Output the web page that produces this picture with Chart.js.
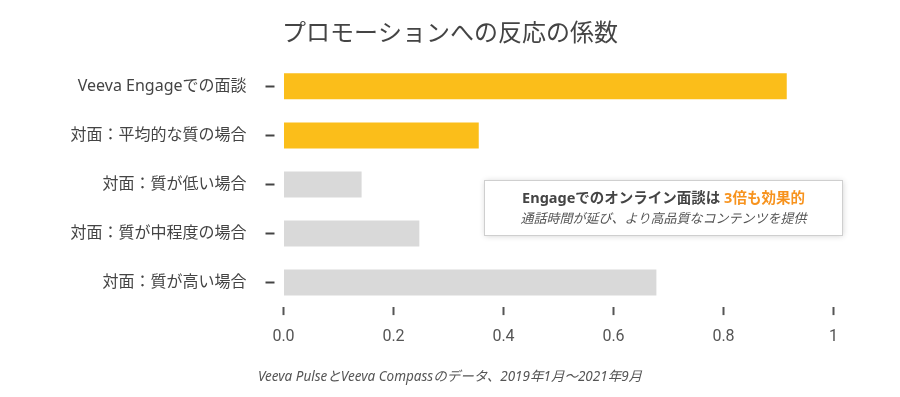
<!DOCTYPE html>
<html>
<head>
<meta charset="utf-8">
<script src="https://cdn.jsdelivr.net/npm/chart.js@4.4.1/dist/chart.umd.min.js"></script>
<style>
  html, body { margin: 0; padding: 0; background: #fff; }
  #wrap { width: 900px; height: 397px; }
</style>
</head>
<body>
<div id="wrap"><canvas id="coefChart"></canvas></div>
<script>
// chart data
const categories = [
    'Veeva Engageでの面談',
    '対面：平均的な質の場合',
    '対面：質が低い場合',
    '対面：質が中程度の場合',
    '対面：質が高い場合'
];
const coefficients = [0.915, 0.355, 0.142, 0.247, 0.678];
const xTicks = [0, 0.2, 0.4, 0.6, 0.8, 1];

const titleText = 'プロモーションへの反応の係数';
const sourceText = 'Veeva PulseとVeeva Compassのデータ、2019年1月～2021年9月';
const noteMain = 'Engageでのオンライン面談は ';
const noteHighlight = '3倍も効果的';
const noteSub = '通話時間が延び、より高品質なコンテンツを提供';

const YELLOW = '#fbbe1a';
const GREY = '#d9d9d9';
const JP = "'Noto Sans', 'Noto Sans CJK JP', sans-serif";

// the callout box on the right
const notePlugin = {
    id: 'note',
    afterDraw(chart) {
        const ctx = chart.ctx;
        const x = 484.5, y = 180.5, w = 358, h = 55;
        ctx.save();
        ctx.shadowColor = 'rgba(0,0,0,0.18)';
        ctx.shadowBlur = 6;
        ctx.fillStyle = '#fff';
        ctx.fillRect(x, y, w, h);
        ctx.shadowColor = 'transparent';
        ctx.strokeStyle = '#cfcfcf';
        ctx.lineWidth = 1;
        ctx.strokeRect(x, y, w, h);

        const cx = x + w / 2;
        ctx.textBaseline = 'middle';
        ctx.font = 'bold 14.5px ' + JP;
        const w1 = ctx.measureText(noteMain).width;
        const w2 = ctx.measureText(noteHighlight).width;
        let sx = cx - (w1 + w2) / 2;
        ctx.textAlign = 'left';
        ctx.fillStyle = '#444';
        ctx.fillText(noteMain, sx, 199);
        ctx.fillStyle = '#f7931e';
        ctx.fillText(noteHighlight, sx + w1, 199);

        ctx.font = 'italic 13px ' + JP;
        ctx.fillStyle = '#555';
        ctx.textAlign = 'center';
        ctx.fillText(noteSub, cx, 219);
        ctx.restore();
    }
};

const chart_data = {
    labels: categories,
    datasets: [{
        data: coefficients,
        backgroundColor: (c) => c.dataIndex < 2 ? YELLOW : GREY,
        borderWidth: 0,
        barPercentage: 0.53,
        categoryPercentage: 1
    }]
};

const config = {
    type: 'bar',
    data: chart_data,
    options: {
        indexAxis: 'y',
        responsive: true,
        maintainAspectRatio: false,
        animation: false,
        layout: { padding: 0 },
        plugins: {
            legend: { display: false },
            tooltip: { enabled: false },
            title: {
                display: true,
                text: titleText,
                color: '#444',
                font: { family: JP, size: 24, weight: 'normal' },
                padding: { top: 20, bottom: 13 }
            },
            subtitle: {
                display: true,
                position: 'bottom',
                text: sourceText,
                color: '#555',
                font: { family: JP, size: 13.5, style: 'italic', weight: 'normal' },
                padding: { top: 10.5, bottom: 12 }
            }
        },
        scales: {
            x: {
                min: 0,
                max: 1,
                afterBuildTicks: (scale) => {
                    scale.ticks = xTicks.map(v => ({ value: v }));
                },
                afterFit: (scale) => { scale.paddingRight = 66.5; },
                ticks: {
                    color: '#555',
                    font: { family: 'Roboto', size: 16 },
                    padding: 12,
                    callback: (v) => v === 1 ? '1' : v.toFixed(1)
                },
                grid: {
                    drawOnChartArea: false,
                    drawTicks: true,
                    tickLength: 8,
                    tickWidth: 2,
                    tickColor: '#555'
                },
                border: { display: false }
            },
            y: {
                afterFit: (scale) => { scale.width = 283.5; },
                ticks: {
                    color: '#444',
                    font: { family: JP, size: 16 },
                    padding: 19
                },
                grid: {
                    offset: false,
                    drawOnChartArea: false,
                    drawTicks: true,
                    tickLength: 18,
                    tickWidth: 2,
                    tickColor: '#444',
                    tickBorderDash: [9, 40]
                },
                border: { display: false }
            }
        }
    },
    plugins: [notePlugin]
};

const myChart = new Chart(document.getElementById('coefChart'), config);
</script>
</body>
</html>
